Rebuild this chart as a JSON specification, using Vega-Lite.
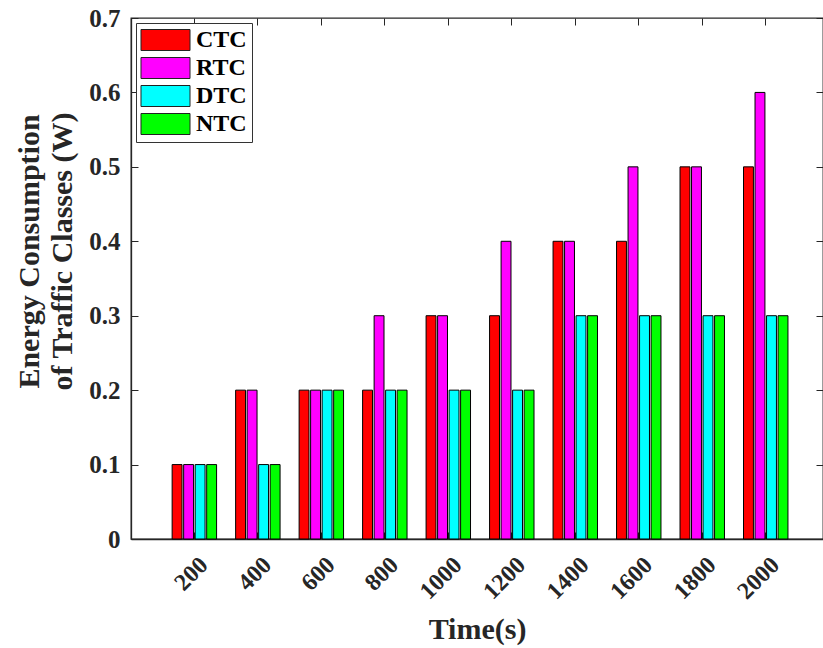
{
  "$schema": "https://vega.github.io/schema/vega-lite/v6.json",
  "width": 692,
  "height": 521,
  "autosize": {"type": "none"},
  "padding": {"left": 131, "top": 18, "right": 0, "bottom": 109},
  "background": "white",
  "config": {
    "view": {"stroke": "#262626", "strokeWidth": 1.3},
    "font": "Liberation Serif",
    "axis": {
      "domainColor": "#262626",
      "domainWidth": 1.3,
      "tickColor": "#262626",
      "tickWidth": 1,
      "labelColor": "#262626",
      "titleColor": "#262626",
      "labelFont": "Liberation Serif",
      "titleFont": "Liberation Serif",
      "grid": false
    }
  },
  "data": {
    "values": [
      {"time": 200, "cls": "CTC", "value": 0.1},
      {"time": 200, "cls": "RTC", "value": 0.1},
      {"time": 200, "cls": "DTC", "value": 0.1},
      {"time": 200, "cls": "NTC", "value": 0.1},
      {"time": 400, "cls": "CTC", "value": 0.2},
      {"time": 400, "cls": "RTC", "value": 0.2},
      {"time": 400, "cls": "DTC", "value": 0.1},
      {"time": 400, "cls": "NTC", "value": 0.1},
      {"time": 600, "cls": "CTC", "value": 0.2},
      {"time": 600, "cls": "RTC", "value": 0.2},
      {"time": 600, "cls": "DTC", "value": 0.2},
      {"time": 600, "cls": "NTC", "value": 0.2},
      {"time": 800, "cls": "CTC", "value": 0.2},
      {"time": 800, "cls": "RTC", "value": 0.3},
      {"time": 800, "cls": "DTC", "value": 0.2},
      {"time": 800, "cls": "NTC", "value": 0.2},
      {"time": 1000, "cls": "CTC", "value": 0.3},
      {"time": 1000, "cls": "RTC", "value": 0.3},
      {"time": 1000, "cls": "DTC", "value": 0.2},
      {"time": 1000, "cls": "NTC", "value": 0.2},
      {"time": 1200, "cls": "CTC", "value": 0.3},
      {"time": 1200, "cls": "RTC", "value": 0.4},
      {"time": 1200, "cls": "DTC", "value": 0.2},
      {"time": 1200, "cls": "NTC", "value": 0.2},
      {"time": 1400, "cls": "CTC", "value": 0.4},
      {"time": 1400, "cls": "RTC", "value": 0.4},
      {"time": 1400, "cls": "DTC", "value": 0.3},
      {"time": 1400, "cls": "NTC", "value": 0.3},
      {"time": 1600, "cls": "CTC", "value": 0.4},
      {"time": 1600, "cls": "RTC", "value": 0.5},
      {"time": 1600, "cls": "DTC", "value": 0.3},
      {"time": 1600, "cls": "NTC", "value": 0.3},
      {"time": 1800, "cls": "CTC", "value": 0.5},
      {"time": 1800, "cls": "RTC", "value": 0.5},
      {"time": 1800, "cls": "DTC", "value": 0.3},
      {"time": 1800, "cls": "NTC", "value": 0.3},
      {"time": 2000, "cls": "CTC", "value": 0.5},
      {"time": 2000, "cls": "RTC", "value": 0.6},
      {"time": 2000, "cls": "DTC", "value": 0.3},
      {"time": 2000, "cls": "NTC", "value": 0.3}
    ]
  },
  "layer": [
    {
      "mark": {"type": "bar", "stroke": "black", "strokeWidth": 1},
      "encoding": {
        "x": {
          "field": "time",
          "type": "ordinal",
          "scale": {"paddingInner": 0.3, "paddingOuter": 0.6, "align": 0.54},
          "axis": {
            "orient": "bottom",
            "title": "Time(s)",
            "labelAngle": -45,
            "labelAlign": "right",
            "labelBaseline": "middle",
            "labelFontSize": 24,
            "labelFontWeight": "bold",
            "labelPadding": 29,
            "labelOffset": 10,
            "labelOverlap": false,
            "tickSize": -7,
            "titleFontSize": 30,
            "titleFontWeight": "bold",
            "titleBaseline": "alphabetic",
            "titleY": 99
          }
        },
        "xOffset": {
          "field": "cls",
          "sort": ["CTC", "RTC", "DTC", "NTC"],
          "scale": {"paddingInner": 0.14, "paddingOuter": 0}
        },
        "y": {
          "field": "value",
          "type": "quantitative",
          "scale": {"domain": [0, 0.7], "nice": false},
          "axis": {
            "orient": "left",
            "values": [0, 0.1, 0.2, 0.3, 0.4, 0.5, 0.6, 0.7],
            "format": ".1~f",
            "labelFontSize": 25,
            "labelFontWeight": "bold",
            "labelPadding": 18,
            "labelFlush": false,
            "tickSize": -7,
            "title": ["Energy Consumption", "of Traffic Classes (W)"],
            "titleFontSize": 30,
            "titleFontWeight": "bold",
            "titleLineHeight": 33,
            "titleAngle": -90,
            "titleAlign": "center",
            "titleBaseline": "bottom",
            "titleX": -87,
            "titleY": 233
          }
        },
        "color": {
          "field": "cls",
          "type": "nominal",
          "scale": {
            "domain": ["CTC", "RTC", "DTC", "NTC"],
            "range": ["#FF0000", "#FF00FF", "#00FFFF", "#00FF00"]
          },
          "legend": {
            "orient": "none",
            "legendX": 5,
            "legendY": 5,
            "title": null,
            "symbolType": "M-1.143,-1L3.524,-1L3.524,1L-1.143,1Z",
            "symbolSize": 441,
            "symbolStrokeColor": "#222222",
            "symbolStrokeWidth": 1,
            "symbolOpacity": 1,
            "labelFont": "Liberation Serif",
            "labelFontSize": 24,
            "labelFontWeight": "bold",
            "labelColor": "black",
            "labelOffset": 31,
            "strokeColor": "#333333",
            "fillColor": "white",
            "padding": 5,
            "rowPadding": 2
          }
        }
      }
    },
    {
      "mark": {"type": "bar", "opacity": 0},
      "encoding": {
        "x": {
          "field": "time",
          "type": "ordinal",
          "scale": {"paddingInner": 0.3, "paddingOuter": 0.6, "align": 0.54},
          "axis": {"orient": "top", "labels": false, "title": null, "domain": false, "tickSize": -7}
        },
        "y": {
          "field": "value",
          "type": "quantitative",
          "scale": {"domain": [0, 0.7], "nice": false},
          "axis": {"orient": "right", "labels": false, "title": null, "domain": false, "tickSize": -7, "values": [0, 0.1, 0.2, 0.3, 0.4, 0.5, 0.6, 0.7]}
        }
      }
    }
  ],
  "resolve": {"axis": {"x": "independent", "y": "independent"}}
}
